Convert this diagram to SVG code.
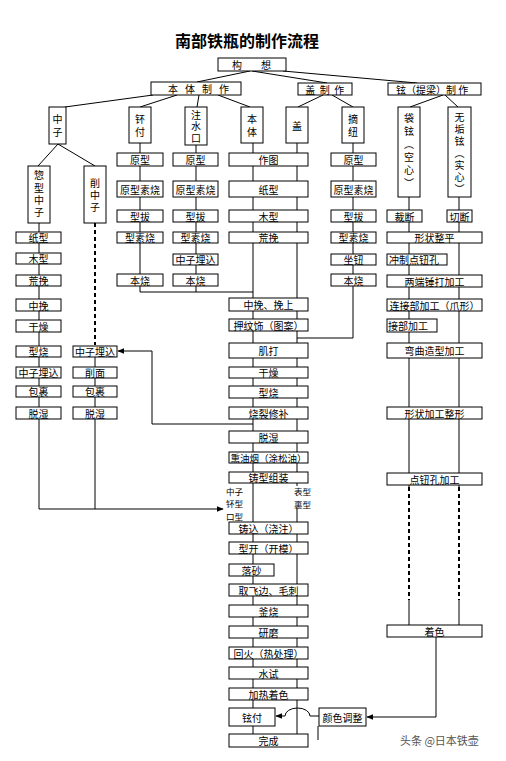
<svg xmlns="http://www.w3.org/2000/svg" width="506" height="761" viewBox="0 0 506 761">
<defs>
<style>
.b{fill:#fff;stroke:#000;stroke-width:1}
.t{font-family:"Noto Sans CJK SC","Noto Sans CJK JP",sans-serif;font-size:10px;text-anchor:middle;dominant-baseline:central;fill:#000}
.l{font-family:"Noto Sans CJK SC","Noto Sans CJK JP",sans-serif;font-size:10px;text-anchor:start;dominant-baseline:central;fill:#000}
.v{font-family:"Noto Sans CJK SC","Noto Sans CJK JP",sans-serif;font-size:10px;writing-mode:vertical-rl;text-anchor:start;fill:#000}
.c{fill:none;stroke:#000;stroke-width:1}
.d{fill:none;stroke:#000;stroke-width:2;stroke-dasharray:4 3}
</style>
<marker id="ah" viewBox="0 0 10 10" refX="9" refY="5" markerWidth="7" markerHeight="7" orient="auto" markerUnits="userSpaceOnUse"><path d="M0,1 L10,5 L0,9 z" fill="#000"/></marker>
</defs>
<rect width="506" height="761" fill="#fff"/>
<text x="247" y="47" style="font-family:'Noto Sans CJK SC',sans-serif;font-size:16px;font-weight:bold;text-anchor:middle">南部铁瓶的制作流程</text>

<g id="connectors">
<path class="c" d="M250,71 L197,82 M252,71 L327,83 M283,71 L417,83"/>
<path class="c" d="M153,95 L65,107 M177,95 L140,107 M199,95 L197,107 M218,95 L250,107"/>
<path class="c" d="M323,95 L298,107 M332,95 L353,107"/>
<path class="c" d="M443,95 L410,107 M445,95 L458,107"/>
<path class="c" d="M58,144 L38,166 M58,144 L95,166"/>
<path class="c" d="M39,223 V509 M95,346 V509"/>
<path class="d" d="M95,223 V345"/>
<path class="c" marker-end="url(#ah)" d="M39,509 H223"/>
<path class="c" marker-end="url(#ah)" d="M253,424 H152 V351 H118"/>
<path class="c" d="M140,143 V292 M196,145 V292 M140,292 H253"/>
<path class="c" d="M253,143 V734 M297,143 V486 M297,509 V734"/>
<path class="c" d="M353,143 V338 H297"/>
<path class="c" d="M409,197 V487 M459,197 V487 M409,600 V625 M459,600 V625"/>
<path class="d" d="M409,487 V600 M459,487 V600"/>
<path class="c" marker-end="url(#ah)" d="M436,637 V717 H367"/>
<path class="c" marker-end="url(#ah)" d="M319,716 H310 A12.5,8 0 0 0 285,716 H276"/>
<path class="c" d="M318,726 V740"/>
</g>

<g id="n-gouxiang"><rect class="b" x="218" y="58" width="68" height="13"/><text class="l" x="232" y="64.5" style="letter-spacing:19px">构想</text></g>
<g id="n-benti-zhizuo"><rect class="b" x="151" y="82" width="90" height="13"/><text class="t" x="202" y="88.5" style="letter-spacing:7px">本体制作</text></g>
<g id="n-gai-zhizuo"><rect class="b" x="298" y="83" width="54" height="12"/><text class="t" x="327" y="89" style="letter-spacing:4.5px">盖制作</text></g>
<g id="n-xuan-zhizuo"><rect class="b" x="388" y="83" width="93" height="12"/><text class="l" x="396" y="89" xml:space="preserve">铉（提梁）制 作</text></g>

<g id="n-zhongzi"><rect class="b" x="49" y="107" width="17" height="37"/><text class="v" x="57.5" y="114" style="letter-spacing:3px">中子</text></g>
<g id="n-huanfu"><rect class="b" x="129" y="107" width="22" height="36"/><text class="v" x="140" y="114" style="letter-spacing:3px">钚付</text></g>
<g id="n-zhushuikou"><rect class="b" x="185" y="107" width="22" height="38"/><text class="v" x="196" y="110" style="letter-spacing:1.5px">注水口</text></g>
<g id="n-benti"><rect class="b" x="241" y="107" width="22" height="36"/><text class="v" x="252" y="114" style="letter-spacing:3px">本体</text></g>
<g id="n-gai"><rect class="b" x="286" y="107" width="22" height="36"/><text class="v" x="297" y="121">盖</text></g>
<g id="n-zhainiu"><rect class="b" x="342" y="107" width="22" height="36"/><text class="v" x="353" y="114" style="letter-spacing:3px">摘纽</text></g>
<g id="n-daixuan"><rect class="b" x="398" y="107" width="22" height="90"/><text class="v" x="409" y="113.5" style="letter-spacing:3px">袋铉（空心）</text></g>
<g id="n-wugouxuan"><rect class="b" x="448" y="107" width="23" height="90"/><text class="v" x="459.5" y="112" style="letter-spacing:2px">无垢铉（实心）</text></g>

<g id="n-moxingzhongzi"><rect class="b" x="28" y="166" width="22" height="57"/><text class="v" x="39" y="170.5" style="letter-spacing:2.3px">惣型中子</text></g>
<g id="n-xiaozhongzi"><rect class="b" x="84" y="166" width="22" height="57"/><text class="v" x="95" y="178" style="letter-spacing:2px">削中子</text></g>

<g id="n-l1"><rect class="b" x="16" y="232" width="45" height="11"/><text class="t" x="38.5" y="237.5">纸型</text></g>
<g id="n-l2"><rect class="b" x="16" y="253" width="45" height="11"/><text class="t" x="38.5" y="258.5">木型</text></g>
<g id="n-l3"><rect class="b" x="16" y="275" width="45" height="11"/><text class="t" x="38.5" y="280.5">荒挽</text></g>
<g id="n-l4"><rect class="b" x="16" y="299" width="45" height="12"/><text class="t" x="38.5" y="305">中挽</text></g>
<g id="n-l5"><rect class="b" x="16" y="320" width="45" height="12"/><text class="t" x="38.5" y="326">干燥</text></g>
<g id="n-l6"><rect class="b" x="16" y="346" width="45" height="11"/><text class="t" x="38.5" y="351.5">型烧</text></g>
<g id="n-l7"><rect class="b" x="16" y="367" width="45" height="11"/><text class="t" x="38.5" y="372.5">中子埋込</text></g>
<g id="n-l8"><rect class="b" x="16" y="386" width="45" height="11"/><text class="t" x="38.5" y="391.5">包裹</text></g>
<g id="n-l9"><rect class="b" x="16" y="407" width="45" height="12"/><text class="t" x="38.5" y="413">脱湿</text></g>

<g id="n-m1"><rect class="b" x="73" y="346" width="44" height="11"/><text class="t" x="95" y="351.5">中子埋込</text></g>
<g id="n-m2"><rect class="b" x="73" y="367" width="44" height="11"/><text class="t" x="95" y="372.5">削面</text></g>
<g id="n-m3"><rect class="b" x="73" y="386" width="44" height="11"/><text class="t" x="95" y="391.5">包裹</text></g>
<g id="n-m4"><rect class="b" x="73" y="407" width="44" height="12"/><text class="t" x="95" y="413">脱湿</text></g>

<g id="n-h1"><rect class="b" x="117" y="153" width="46" height="13"/><text class="t" x="140" y="159.5">原型</text></g>
<g id="n-h2"><rect class="b" x="117" y="181" width="46" height="16"/><text class="t" x="140" y="189">原型素烧</text></g>
<g id="n-h3"><rect class="b" x="117" y="210" width="46" height="12"/><text class="t" x="140" y="216">型拔</text></g>
<g id="n-h4"><rect class="b" x="117" y="232" width="46" height="11"/><text class="t" x="140" y="237.5">型素烧</text></g>
<g id="n-h5"><rect class="b" x="117" y="274" width="46" height="12"/><text class="t" x="140" y="280">本烧</text></g>

<g id="n-s1"><rect class="b" x="173" y="153" width="45" height="13"/><text class="t" x="195.5" y="159.5">原型</text></g>
<g id="n-s2"><rect class="b" x="173" y="181" width="45" height="16"/><text class="t" x="195.5" y="189">原型素烧</text></g>
<g id="n-s3"><rect class="b" x="173" y="210" width="45" height="12"/><text class="t" x="195.5" y="216">型拔</text></g>
<g id="n-s4"><rect class="b" x="173" y="232" width="45" height="11"/><text class="t" x="195.5" y="237.5">型素烧</text></g>
<g id="n-s5"><rect class="b" x="173" y="254" width="45" height="11"/><text class="t" x="195.5" y="259.5">中子埋込</text></g>
<g id="n-s6"><rect class="b" x="173" y="274" width="45" height="12"/><text class="t" x="195.5" y="280">本烧</text></g>

<g id="n-k1"><rect class="b" x="331" y="153" width="45" height="13"/><text class="t" x="353.5" y="159.5">原型</text></g>
<g id="n-k2"><rect class="b" x="331" y="181" width="45" height="16"/><text class="t" x="353.5" y="189">原型素烧</text></g>
<g id="n-k3"><rect class="b" x="331" y="210" width="45" height="12"/><text class="t" x="353.5" y="216">型拔</text></g>
<g id="n-k4"><rect class="b" x="331" y="232" width="45" height="11"/><text class="t" x="353.5" y="237.5">型素烧</text></g>
<g id="n-k5"><rect class="b" x="331" y="254" width="45" height="11"/><text class="t" x="353.5" y="259.5">坐钮</text></g>
<g id="n-k6"><rect class="b" x="331" y="274" width="45" height="12"/><text class="t" x="353.5" y="280">本烧</text></g>

<g id="n-b1"><rect class="b" x="229" y="153" width="79" height="13"/><text class="t" x="268.5" y="159.5">作图</text></g>
<g id="n-b2"><rect class="b" x="229" y="181" width="79" height="16"/><text class="t" x="268.5" y="189">纸型</text></g>
<g id="n-b3"><rect class="b" x="229" y="210" width="79" height="12"/><text class="t" x="268.5" y="216">木型</text></g>
<g id="n-b4"><rect class="b" x="229" y="232" width="79" height="11"/><text class="t" x="268.5" y="237.5">荒挽</text></g>
<g id="n-b5"><rect class="b" x="229" y="298" width="79" height="13"/><text class="t" x="268.5" y="304.5">中挽、挽上</text></g>
<g id="n-b6"><rect class="b" x="229" y="319" width="79" height="12"/><text class="t" x="268.5" y="325">押纹饰（图案）</text></g>
<g id="n-b7"><rect class="b" x="229" y="343" width="79" height="15"/><text class="t" x="268.5" y="350.5">肌打</text></g>
<g id="n-b8"><rect class="b" x="229" y="367" width="79" height="11"/><text class="t" x="268.5" y="372.5">干燥</text></g>
<g id="n-b9"><rect class="b" x="229" y="386" width="79" height="12"/><text class="t" x="268.5" y="392">型烧</text></g>
<g id="n-b10"><rect class="b" x="229" y="407" width="79" height="12"/><text class="t" x="268.5" y="413">烧裂修补</text></g>
<g id="n-b11"><rect class="b" x="229" y="431" width="79" height="12"/><text class="t" x="268.5" y="437">脱湿</text></g>
<g id="n-b12"><rect class="b" x="229" y="452" width="79" height="11"/><text class="t" x="268.5" y="457.5" style="font-size:9.5px">熏油烟（涂松油）</text></g>
<g id="n-b13"><rect class="b" x="229" y="472" width="79" height="11"/><text class="t" x="268.5" y="477.5">铸型组装</text></g>
<g id="n-b13-labels"><text class="l" style="font-size:8.5px"><tspan x="226" y="490.5">中子</tspan><tspan x="226" y="503">钚型</tspan><tspan x="226" y="515.5">口型</tspan></text><text class="l" style="font-size:8.5px"><tspan x="294" y="491">表型</tspan><tspan x="294" y="503.5">裏型</tspan></text></g>
<g id="n-b14"><rect class="b" x="229" y="522" width="79" height="12"/><text class="t" x="268.5" y="528">铸込（浇注）</text></g>
<g id="n-b15"><rect class="b" x="229" y="542" width="79" height="12"/><text class="t" x="268.5" y="548">型开（开模）</text></g>
<g id="n-b16"><rect class="b" x="229" y="564" width="45" height="12"/><text class="t" x="251.5" y="570">落砂</text></g>
<g id="n-b17"><rect class="b" x="229" y="584" width="79" height="12"/><text class="t" x="268.5" y="590">取飞边、毛刺</text></g>
<g id="n-b18"><rect class="b" x="229" y="605" width="79" height="12"/><text class="t" x="268.5" y="611">釜烧</text></g>
<g id="n-b19"><rect class="b" x="229" y="626" width="79" height="12"/><text class="t" x="268.5" y="632">研磨</text></g>
<g id="n-b20"><rect class="b" x="229" y="647" width="79" height="12"/><text class="t" x="268.5" y="653">回火（热处理）</text></g>
<g id="n-b21"><rect class="b" x="229" y="667" width="79" height="12"/><text class="t" x="268.5" y="673">水试</text></g>
<g id="n-b22"><rect class="b" x="229" y="688" width="79" height="12"/><text class="t" x="268.5" y="694">加热着色</text></g>
<g id="n-b23"><rect class="b" x="229" y="708" width="46" height="18"/><text class="t" x="252" y="717">铉付</text></g>
<g id="n-b24"><rect class="b" x="229" y="734" width="79" height="13"/><text class="t" x="268.5" y="740.5">完成</text></g>
<g id="n-color"><rect class="b" x="319" y="708" width="47" height="18"/><text class="t" x="342.5" y="717">颜色调整</text></g>

<g id="n-r1"><rect class="b" x="387" y="210" width="35" height="12"/><text class="t" x="404.5" y="216">裁断</text></g>
<g id="n-r2"><rect class="b" x="447" y="210" width="25" height="12"/><text class="t" x="459.5" y="216">切断</text></g>
<g id="n-r3"><rect class="b" x="387" y="232" width="95" height="11"/><text class="t" x="434.5" y="237.5">形状整平</text></g>
<g id="n-r4"><rect class="b" x="387" y="254" width="60" height="11"/><text class="l" x="389" y="259.5">冲制点钮孔</text></g>
<g id="n-r5"><rect class="b" x="387" y="275" width="95" height="12"/><text class="t" x="434.5" y="281">两端锤打加工</text></g>
<g id="n-r6"><rect class="b" x="387" y="299" width="95" height="12"/><text class="t" x="434.5" y="305">连接部加工（爪形）</text></g>
<g id="n-r7"><rect class="b" x="387" y="319" width="50" height="13"/><text class="l" x="388" y="325.5">接部加工</text></g>
<g id="n-r8"><rect class="b" x="387" y="343" width="95" height="15"/><text class="t" x="434.5" y="350.5">弯曲造型加工</text></g>
<g id="n-r9"><rect class="b" x="387" y="407" width="95" height="12"/><text class="t" x="434.5" y="413">形状加工整形</text></g>
<g id="n-r10"><rect class="b" x="387" y="473" width="95" height="12"/><text class="t" x="434.5" y="479">点钮孔加工</text></g>
<g id="n-r11"><rect class="b" x="387" y="625" width="95" height="12"/><text class="t" x="434.5" y="631">着色</text></g>

<text x="400" y="745" style="font-family:'Noto Sans CJK SC',sans-serif;font-size:11px;fill:#555">头条 @日本铁壶</text>
</svg>
